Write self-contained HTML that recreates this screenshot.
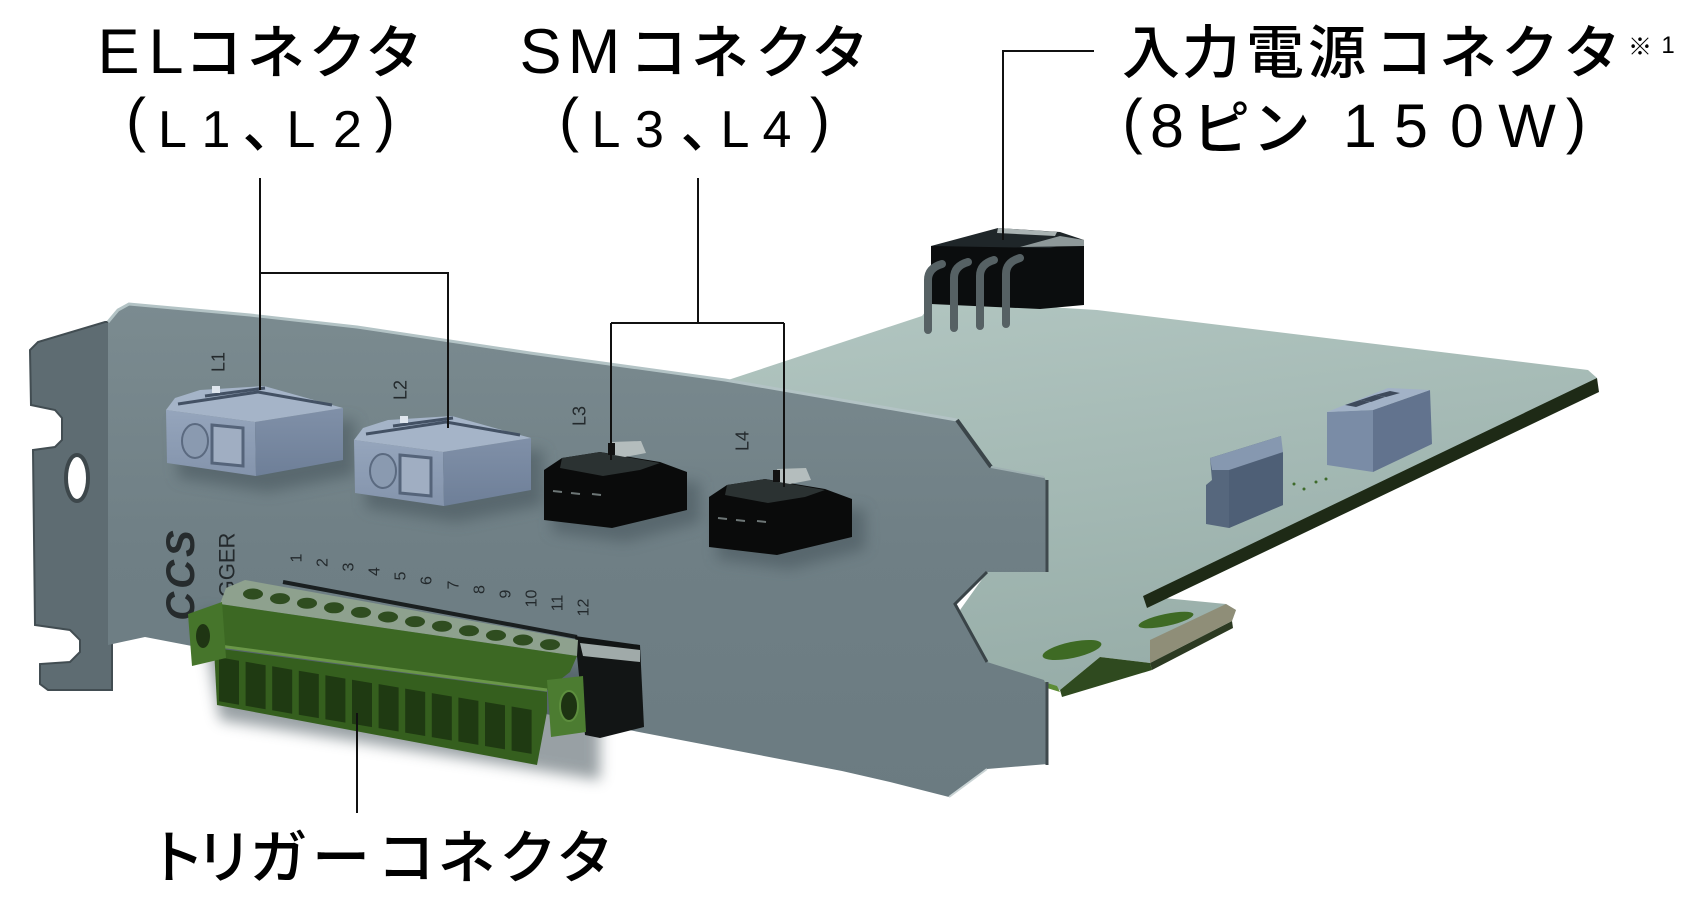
<!DOCTYPE html>
<html><head><meta charset="utf-8">
<style>
html,body{margin:0;padding:0;background:#fff;}
svg{display:block;}
</style></head><body>
<svg width="1684" height="898" viewBox="0 0 1684 898" xmlns="http://www.w3.org/2000/svg">
<defs>
 <linearGradient id="pcb" x1="0" y1="0" x2="0.3" y2="1">
  <stop offset="0" stop-color="#b2c6c1"/>
  <stop offset="1" stop-color="#98aea9"/>
 </linearGradient>
 <linearGradient id="plate" x1="0" y1="0" x2="0" y2="1">
  <stop offset="0" stop-color="#7b8b90"/>
  <stop offset="0.5" stop-color="#6f7f85"/>
  <stop offset="1" stop-color="#6b7b81"/>
 </linearGradient>
 <linearGradient id="bluef" x1="0" y1="0" x2="0" y2="1">
  <stop offset="0" stop-color="#95a5bc"/>
  <stop offset="1" stop-color="#8494ac"/>
 </linearGradient>
 <linearGradient id="bluer" x1="0" y1="0" x2="0" y2="1">
  <stop offset="0" stop-color="#8090a8"/>
  <stop offset="1" stop-color="#6e7f98"/>
 </linearGradient>
 <filter id="blur" x="-20%" y="-20%" width="140%" height="140%"><feGaussianBlur stdDeviation="7"/></filter>
</defs>
<rect width="1684" height="898" fill="#fff"/>

<!-- PCB -->
<polygon points="725,381 922,316 935,300 1097,310 1588,370 1597,378 1597,386 1143,596 1226,604 1236,610 1232,621 1150,663 1100,657 1060,690 1000,670 985,662 960,610 985,575 990,470 957,420" fill="url(#pcb)"/>
<polygon points="1597,378 1599,392 1147,608 1143,596" fill="#1e2a16"/>
<polygon points="1232,621 1233,628 1152,670 1150,663" fill="#2c3a22"/>
<polygon points="1150,640 1226,604 1236,610 1232,621 1150,663" fill="#8f8e78"/>
<polygon points="1100,657 1150,663 1152,670 1062,697 1060,690" fill="#2f4a1f"/>
<ellipse cx="1072" cy="650" rx="30" ry="8" transform="rotate(-12 1072 650)" fill="#3e6a24"/>
<ellipse cx="1166" cy="620" rx="28" ry="6" transform="rotate(-12 1166 620)" fill="#3e6a24"/>
<polygon points="992,666 1057,686 1060,692 995,672" fill="#5d8c36"/>
<g fill="#3d6a2a"><circle cx="1294" cy="484" r="1.5"/><circle cx="1304" cy="489" r="1.5"/><circle cx="1316" cy="482" r="1.5"/><circle cx="1326" cy="479" r="1.5"/></g>

<!-- power connector -->
<polygon points="931,246 1084,240 1084,305 1040,309 931,304" fill="#0b0d0e"/>
<polygon points="931,246 998,228 1060,232 1084,240 1050,248" fill="#1f2629"/>
<polygon points="1020,247 1060,236 1084,240 1084,246" fill="#8e9899"/>
<polygon points="998,228 1057,232 1055,236 997,233" fill="#aab3b3"/>
<g stroke="#566164" stroke-width="8" fill="none" stroke-linecap="round">
 <path d="M928,330 V280 Q928,268 942,264"/>
 <path d="M954,328 V278 Q954,266 968,262"/>
 <path d="M980,326 V276 Q980,264 994,260"/>
 <path d="M1006,324 V274 Q1006,262 1020,258"/>
</g>

<!-- small connector -->
<polygon points="1210,458 1281,436 1283,505 1229,528 1206,524 1206,485 1212,480" fill="#56677d"/>
<polygon points="1229,470 1283,452 1283,505 1229,528" fill="#4e5f76"/>
<polygon points="1210,458 1281,436 1283,452 1229,470 1212,470" fill="#8698b0"/>
<!-- 4-pin connector -->
<polygon points="1327,412 1373,410 1373,472 1327,465" fill="#7a8ca6"/>
<polygon points="1373,410 1430,390 1432,444 1373,472" fill="#62738e"/>
<polygon points="1327,412 1388,388 1430,390 1373,410" fill="#a2b2c7"/>
<g fill="#3e4a5c"><polygon points="1345,405 1360,400 1370,402 1356,407"/><polygon points="1360,400 1375,395 1385,397 1371,402"/><polygon points="1375,395 1390,391 1400,393 1386,397"/></g>

<!-- plate flange -->
<polygon points="30,350 31,405 55,410 62,418 62,440 55,447 33,450 35,625 70,630 80,640 80,652 70,662 40,664 40,684 48,690 112,690 112,322 105,322 38,342" fill="#5e6c72" stroke="#424d52" stroke-width="2"/>
<ellipse cx="77" cy="478" rx="11" ry="23" fill="#fff" stroke="#3d474b" stroke-width="4"/>

<!-- plate main face -->
<polygon points="108,322 118,310 129,304 250,315 357,327 530,353 725,380 957,420 991,467 1044,477 1048,485 1048,572 987,572 955,604 987,662 1044,680 1048,690 1048,764 987,769 949,797 890,782 842,771 145,637 108,645" fill="url(#plate)"/>
<polyline points="108,322 118,310 129,304 250,315 357,327 530,353 725,380 957,420" fill="none" stroke="#b3c3c5" stroke-width="3"/>
<path d="M957,420 L991,467" stroke="#3b4549" stroke-width="4"/>
<path d="M991,467 L1044,477" stroke="#9fb0b2" stroke-width="2"/>
<path d="M1047,480 V572 M1047,682 V765" stroke="#3f494d" stroke-width="3"/>
<path d="M987,572 L955,604 L987,662" stroke="#3a4448" stroke-width="3" fill="none"/>
<path d="M987,769 L949,797" stroke="#c9d3d4" stroke-width="2"/>

<!-- shadows -->
<g filter="url(#blur)" opacity="0.55" fill="#44535a">
 <polygon points="176,420 355,420 355,475 268,492 178,478"/>
 <polygon points="364,450 543,450 543,505 456,522 366,508"/>
 <polygon points="552,478 700,482 700,522 625,542 552,532"/>
 <polygon points="717,505 865,509 865,549 790,569 717,559"/>
 <polygon points="200,610 600,670 600,780 220,720"/>
</g>

<!-- L1 / L2 connectors -->
<g id="elc">
 <polygon points="166,410 255,422 256,476 167,463" fill="url(#bluef)"/>
 <polygon points="255,422 343,408 343,460 256,476" fill="url(#bluer)"/>
 <polygon points="166,410 175,398 200,390 264,386 321,402 343,408 255,422" fill="#a5b4c8"/>
 <path d="M178,404 L258,392 L332,405 M205,396 L265,388" stroke="#435164" stroke-width="3" fill="none"/>
 <rect x="212" y="386" width="8" height="7" fill="#dfe6ee"/>
 <ellipse cx="195" cy="441" rx="13" ry="17" fill="#8a9ab0" stroke="#5b6a80" stroke-width="2"/>
 <polygon points="212,425 243,428 243,466 212,463" fill="#a0aec2" stroke="#55647a" stroke-width="3"/>
</g>
<use href="#elc" transform="translate(188,30)"/>

<!-- L3 / L4 connectors -->
<g id="smc">
 <polygon points="544,470 562,458 600,452 660,462 687,472 687,510 612,528 544,520" fill="#0a0b0b"/>
 <polygon points="562,458 600,452 620,456 660,463 640,470 603,476 560,468" fill="#2b3232"/>
 <polygon points="612,442 641,441 646,453 625,457 614,455" fill="#b4bdbd"/>
 <rect x="608" y="443" width="7" height="12" fill="#111"/>
 <g stroke="#6d7676" stroke-width="2"><path d="M553,491 L562,492 M571,493 L580,494 M592,494 L601,495"/></g>
</g>
<use href="#smc" transform="translate(165,27)"/>

<!-- plate markings -->
<g font-family="'Liberation Sans',sans-serif" fill="#23292c" text-anchor="middle">
 <text transform="translate(218,362) rotate(-90)" font-size="18" dy="0.35em">L1</text>
 <text transform="translate(400,390) rotate(-90)" font-size="18" dy="0.35em">L2</text>
 <text transform="translate(579,416) rotate(-90)" font-size="18" dy="0.35em">L3</text>
 <text transform="translate(742,441) rotate(-90)" font-size="18" dy="0.35em">L4</text>
 <text transform="translate(180,574) rotate(-90)" font-size="40" font-weight="bold" font-style="italic" letter-spacing="3" dy="0.35em" fill="#262b2d">CCS</text>
 <text transform="translate(227,565) rotate(-90)" font-size="22" dy="0.35em">GGER</text>
 <g font-size="16">
  <text transform="translate(296,558) rotate(-90)" dy="0.35em">1</text>
  <text transform="translate(322,562.5) rotate(-90)" dy="0.35em">2</text>
  <text transform="translate(348,567) rotate(-90)" dy="0.35em">3</text>
  <text transform="translate(374,571.5) rotate(-90)" dy="0.35em">4</text>
  <text transform="translate(400,576) rotate(-90)" dy="0.35em">5</text>
  <text transform="translate(426,580.5) rotate(-90)" dy="0.35em">6</text>
  <text transform="translate(453,585) rotate(-90)" dy="0.35em">7</text>
  <text transform="translate(479,589.5) rotate(-90)" dy="0.35em">8</text>
  <text transform="translate(505,594) rotate(-90)" dy="0.35em">9</text>
  <text transform="translate(531,598.5) rotate(-90)" dy="0.35em">10</text>
  <text transform="translate(557,603) rotate(-90)" dy="0.35em">11</text>
  <text transform="translate(583,607.5) rotate(-90)" dy="0.35em">12</text>
 </g>
</g>

<!-- trigger terminal block -->
<path d="M283,582 L577,637" stroke="#1a1f20" stroke-width="4"/>
<polygon points="575,636 640,645 644,727 600,738 585,735" fill="#121515"/>
<polygon points="580,643 640,650 640,662 583,656" fill="#a0aaa9"/>
<polygon points="226,588 245,580 578,640 577,656 220,604" fill="#8ea18e"/>
<g fill="#2f4d20">
 <ellipse cx="253" cy="594" rx="10" ry="5.5"/><ellipse cx="280" cy="598.6" rx="10" ry="5.5"/>
 <ellipse cx="307" cy="603.2" rx="10" ry="5.5"/><ellipse cx="334" cy="607.8" rx="10" ry="5.5"/>
 <ellipse cx="361" cy="612.4" rx="10" ry="5.5"/><ellipse cx="388" cy="617" rx="10" ry="5.5"/>
 <ellipse cx="415" cy="621.6" rx="10" ry="5.5"/><ellipse cx="442" cy="626.2" rx="10" ry="5.5"/>
 <ellipse cx="469" cy="630.8" rx="10" ry="5.5"/><ellipse cx="496" cy="635.4" rx="10" ry="5.5"/>
 <ellipse cx="523" cy="640" rx="10" ry="5.5"/><ellipse cx="550" cy="644.6" rx="10" ry="5.5"/>
</g>
<polygon points="220,604 577,656 570,672 547,690 212,645 214,612" fill="#3c6823"/>
<polygon points="214,648 547,692 547,712 537,765 217,705" fill="#355f1e"/>
<path d="M212,645 L547,690" stroke="#6a9748" stroke-width="3"/>
<g fill="#1f3a12">
 <path d="M219,657.3 l20,3.4 v44 l-20,-3.4 z"/>
 <path d="M245.6,661.8 l20,3.4 v44 l-20,-3.4 z"/>
 <path d="M272.2,666.3 l20,3.4 v44 l-20,-3.4 z"/>
 <path d="M298.8,670.7 l20,3.4 v44 l-20,-3.4 z"/>
 <path d="M325.4,675.2 l20,3.4 v44 l-20,-3.4 z"/>
 <path d="M352,679.7 l20,3.4 v44 l-20,-3.4 z"/>
 <path d="M378.6,684.1 l20,3.4 v44 l-20,-3.4 z"/>
 <path d="M405.2,688.6 l20,3.4 v44 l-20,-3.4 z"/>
 <path d="M431.8,693.1 l20,3.4 v44 l-20,-3.4 z"/>
 <path d="M458.4,697.5 l20,3.4 v44 l-20,-3.4 z"/>
 <path d="M485,702 l20,3.4 v44 l-20,-3.4 z"/>
 <path d="M511.6,706.5 l20,3.4 v44 l-20,-3.4 z"/>
</g>
<polygon points="188,614 222,602 226,658 192,666" fill="#46752b"/>
<ellipse cx="203" cy="636" rx="7" ry="12" fill="#1f3513"/>
<polygon points="547,680 583,676 586,732 551,737" fill="#4c7c31"/>
<ellipse cx="569" cy="706" rx="9" ry="15" fill="#1d3312" stroke="#5d8e3e" stroke-width="2"/>

<!-- leader lines -->
<g stroke="#111" stroke-width="2" fill="none">
 <path d="M260,178 V390 M260,273 H448 V428"/>
 <path d="M698,178 V323 M611,323 H784 M611,323 V460 M784,323 V487"/>
 <path d="M1094,51 H1003 V240"/>
 <path d="M357,713 V813"/>
</g>

<!-- labels -->
<g font-family="'Liberation Sans','Noto Sans CJK JP',sans-serif" font-weight="500" text-anchor="middle" fill="#000">
 <text x="118.5" y="73" font-size="63">E</text>
 <text x="166" y="73" font-size="63">L</text>
 <text x="213.5" y="73" font-size="58">コ</text>
 <text x="276" y="73" font-size="58">ネ</text>
 <text x="337.5" y="73" font-size="58">ク</text>
 <text x="394" y="73" font-size="58">タ</text>

 <text x="136" y="140" font-size="60">(</text>
 <text x="172.5" y="147" font-size="52">L</text>
 <text x="216" y="147" font-size="52">1</text>
 <text x="271" y="147" font-size="57">、</text>
 <text x="301" y="147" font-size="52">L</text>
 <text x="347.5" y="147" font-size="52">2</text>
 <text x="385" y="140" font-size="60">)</text>

 <text x="540.5" y="73" font-size="63">S</text>
 <text x="594" y="73" font-size="63">M</text>
 <text x="658.5" y="73" font-size="58">コ</text>
 <text x="720" y="73" font-size="58">ネ</text>
 <text x="784" y="73" font-size="58">ク</text>
 <text x="840" y="73" font-size="58">タ</text>

 <text x="569" y="140" font-size="60">(</text>
 <text x="606" y="147" font-size="52">L</text>
 <text x="649.5" y="147" font-size="52">3</text>
 <text x="709" y="147" font-size="57">、</text>
 <text x="735" y="147" font-size="52">L</text>
 <text x="777" y="147" font-size="52">4</text>
 <text x="820" y="140" font-size="60">)</text>

 <text x="1151" y="73" font-size="58">入</text>
 <text x="1211" y="73" font-size="58">力</text>
 <text x="1275" y="73" font-size="58">電</text>
 <text x="1337" y="73" font-size="58">源</text>
 <text x="1404" y="73" font-size="58">コ</text>
 <text x="1468" y="73" font-size="58">ネ</text>
 <text x="1530" y="73" font-size="58">ク</text>
 <text x="1592" y="73" font-size="58">タ</text>
 <text x="1640" y="55" font-size="24">※</text>
 <text x="1668" y="53" font-size="24">1</text>

 <text x="1132.5" y="142" font-size="61">(</text>
 <text x="1167" y="147" font-size="61">8</text>
 <text x="1221" y="149" font-size="58">ピ</text>
 <text x="1281.5" y="149" font-size="58">ン</text>
 <text x="1360" y="147" font-size="61">1</text>
 <text x="1411" y="147" font-size="61">5</text>
 <text x="1467" y="147" font-size="61">0</text>
 <text x="1527" y="147" font-size="61">W</text>
 <text x="1576" y="142" font-size="61">)</text>

 <text x="176" y="878" font-size="58">ト</text>
 <text x="224" y="878" font-size="58">リ</text>
 <text x="278.5" y="878" font-size="58">ガ</text>
 <text x="341" y="878" font-size="58">ー</text>
 <text x="406" y="878" font-size="58">コ</text>
 <text x="466.5" y="878" font-size="58">ネ</text>
 <text x="528" y="878" font-size="58">ク</text>
 <text x="585" y="878" font-size="58">タ</text>
</g>
</svg>
</body></html>
